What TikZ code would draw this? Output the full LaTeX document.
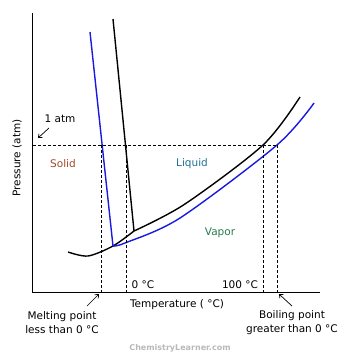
\documentclass[tikz,border=0pt]{standalone}
\usepackage{fontspec}
\setmainfont{DejaVu Sans}
\usetikzlibrary{arrows.meta}

\definecolor{curveblue}{RGB}{25,25,225}
\definecolor{solidbrown}{RGB}{160,72,40}
\definecolor{liquidblue}{RGB}{30,112,150}
\definecolor{vaporgreen}{RGB}{40,122,80}

\begin{document}
\begin{tikzpicture}[
  x=1pt, y=-1pt,
  font=\fontsize{10.5}{14}\selectfont,
  axis/.style={line width=1pt},
  pure/.style={line width=1.4pt, draw=black},
  solution/.style={line width=1.4pt, draw=curveblue},
  guide/.style={line width=0.7pt, dash pattern=on 3pt off 2pt},
  pointer/.style={-{Straight Barb[length=3pt,width=5pt]}, line width=0.7pt},
  label/.style={anchor=base, inner sep=0pt},
  note/.style={align=center, inner sep=0pt}
]
\useasboundingbox (0,0) rectangle (360,360);

% axes
\coordinate (ytop) at (33,13);
\coordinate (origin) at (33,292);
\coordinate (xend) at (320,292);
\draw[axis] (ytop) -- (origin) -- (xend);

% pure solvent (black)
\coordinate (puretop) at (113,19);
\coordinate (puretriple) at (134,231);
\coordinate (solutiontop) at (90,32);
\coordinate (solutiontriple) at (113,246);
\draw[pure] (puretop) -- (puretriple);
\draw[pure] plot[smooth] coordinates {(68,252) (88,256) (solutiontriple) (puretriple)};
\draw[pure] plot[smooth] coordinates {(puretriple) (185,204) (263,145) (300,97)};

% solution (blue)
\draw[solution, line join=round] (solutiontop) -- plot[smooth] coordinates {(solutiontriple) (125,243) (180,218) (277,145) (314,103)};

% 1 atm and the four crossings
\coordinate (atmleft) at (33,145);
\coordinate (melt) at (101,145);
\coordinate (zero) at (126,145);
\coordinate (hundred) at (263,145);
\coordinate (boil) at (277,145);
\draw[guide] (atmleft) -- (boil);
\foreach \p in {melt,zero,hundred,boil}
  \draw[guide] (\p) -- (\p |- origin);

% labels
\node[rotate=90] (ylabel) at (17,158) {Pressure (atm)};
\node[label, text=solidbrown] (solid) at (63,167) {Solid};
\node[label, text=liquidblue] (liquid) at (192,166) {Liquid};
\node[label, text=vaporgreen] (vapor) at (220,235) {Vapor};
\node[label] (atm) at (60,122) {1 atm};
\node[label] (zeroC) at (143,288) {0 °C};
\node[label] (hundredC) at (240,288) {100 °C};
\node[label] (xlabel) at (177,307) {Temperature ( °C)};
\node[note] (meltnote) at (62,323) {Melting point\\less than 0 °C};
\node[note] (boilnote) at (292,323) {Boiling point\\greater than 0 °C};
\node[text=gray!55, font=\bfseries\fontsize{8}{10}\selectfont] (credit) at (180,348) {ChemistryLearner.com};

% pointers
\coordinate (atmtail) at (49,128);
\coordinate (atmtip) at (38,138);
\coordinate (melttail) at (87,306);
\coordinate (melttip) at (99,294);
\coordinate (boiltail) at (292,306);
\coordinate (boiltip) at (279,294);
\draw[pointer] (atmtail) -- (atmtip);
\draw[pointer] (melttail) -- (melttip);
\draw[pointer] (boiltail) -- (boiltip);

\end{tikzpicture}
\end{document}
